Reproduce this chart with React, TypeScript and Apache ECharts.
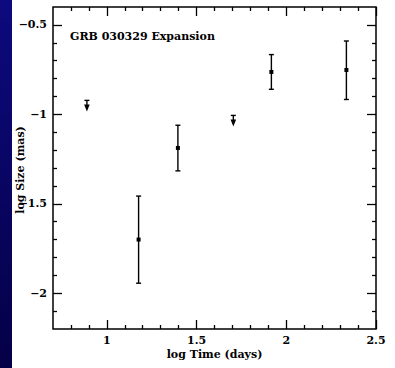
import React, { useEffect, useRef } from "react";
import * as echarts from "echarts";

// Detections: log time, log size, lower and upper error bounds
const detX = [1.177, 1.396, 1.917, 2.335];
const detY = [-1.70, -1.188, -0.763, -0.752];
const detLo = [-1.944, -1.316, -0.86, -0.917];
const detHi = [-1.457, -1.061, -0.666, -0.590];

// Upper limits
const limX = [0.889, 1.705];
const limY = [-0.922, -1.006];

const xMajor = [1, 1.5, 2, 2.5];
const xMinor = [0.8, 0.9, 1.1, 1.2, 1.3, 1.4, 1.6, 1.7, 1.8, 1.9, 2.1, 2.2, 2.3, 2.4];
const yMajor = [-2, -1.5, -1, -0.5];
const yMinor = [-2.1, -1.9, -1.8, -1.7, -1.6, -1.4, -1.3, -1.2, -1.1, -0.9, -0.8, -0.7, -0.6];

const FONT = "DejaVu Serif";

export default function App() {
  const ref = useRef<HTMLDivElement>(null);
  useEffect(() => {
    document.body.style.margin = "0";
    const chart = echarts.init(ref.current!, null, { renderer: "svg" });
    const lbl = { fontFamily: FONT, fontWeight: "bold" as const, fontSize: 11, color: "#000" };
    const baseX = { type: "value" as const, min: 0.7, max: 2.5, splitLine: { show: false }, axisLine: { show: false, onZero: false } };
    const baseY = { type: "value" as const, min: -2.2, max: -0.4, splitLine: { show: false }, axisLine: { show: false, onZero: false } };
    const tick = (vals: number[], len: number) => ({
      show: true, inside: true, length: len, customValues: vals,
      lineStyle: { color: "#000", width: 1.3 },
    });
    const data = detX.map((x, i) => [x, detY[i], detLo[i], detHi[i]]);
    const lim = limX.map((x, i) => [x, limY[i]]);
    chart.setOption({
      animation: false,
      backgroundColor: "#fff",
      grid: {
        left: 53, right: 19, top: 7, bottom: 39, containLabel: false, outerBoundsMode: "none",
        show: true, borderColor: "#000", borderWidth: 1.5, backgroundColor: "transparent",
      },
      graphic: [
        {
          type: "rect", left: 0, top: 0, z: -10,
          shape: { x: 0, y: 0, width: 12, height: 368 },
          style: {
            fill: new echarts.graphic.LinearGradient(0, 0, 0, 1, [
              { offset: 0, color: "#0c0a7e" },
              { offset: 1, color: "#050046" },
            ]),
          },
        },
        {
          type: "text", x: 70, y: 36,
          style: { text: "GRB 030329 Expansion", font: `bold 11px "${FONT}"`, fill: "#000", verticalAlign: "middle" },
        },
        {
          type: "text", x: 20, y: 170, rotation: Math.PI / 2,
          style: { text: "log Size (mas)", font: `bold 11px "${FONT}"`, fill: "#000", align: "center", verticalAlign: "middle" },
        },
      ],
      xAxis: [
        {
          ...baseX, position: "bottom",
          name: "log Time (days)", nameLocation: "middle", nameGap: 20, nameMoveOverlap: false,
          nameTextStyle: { ...lbl },
          axisTick: tick(xMajor, 9),
          axisLabel: { ...lbl, margin: 6, customValues: xMajor },
        },
        { ...baseX, position: "bottom", axisTick: tick(xMinor, 4), axisLabel: { show: false } },
        { ...baseX, position: "top", axisTick: tick(xMajor, 9), axisLabel: { show: false } },
        { ...baseX, position: "top", axisTick: tick(xMinor, 4), axisLabel: { show: false } },
      ],
      yAxis: [
        {
          ...baseY, position: "left",
          axisTick: tick(yMajor, 9),
          axisLabel: {
            ...lbl, margin: 6, customValues: yMajor,
            formatter: (v: number) => (v < 0 ? "\u2212" + String(-v) : String(v)),
          },
        },
        { ...baseY, position: "left", axisTick: tick(yMinor, 4), axisLabel: { show: false } },
        { ...baseY, position: "right", axisTick: tick(yMajor, 9), axisLabel: { show: false } },
        { ...baseY, position: "right", axisTick: tick(yMinor, 4), axisLabel: { show: false } },
      ],
      series: [
        {
          type: "custom",
          xAxisIndex: 0, yAxisIndex: 0,
          data,
          encode: { x: 0, y: 1 },
          renderItem: (params: any, api: any) => {
            const x = api.value(0), y = api.value(1), lo = api.value(2), hi = api.value(3);
            const c = api.coord([x, y]);
            const l = api.coord([x, lo]);
            const h = api.coord([x, hi]);
            const st = { stroke: "#000", lineWidth: 1.4 };
            return {
              type: "group",
              children: [
                { type: "line", shape: { x1: l[0], y1: l[1], x2: h[0], y2: h[1] }, style: st },
                { type: "line", shape: { x1: l[0] - 2.5, y1: l[1], x2: l[0] + 2.5, y2: l[1] }, style: st },
                { type: "line", shape: { x1: h[0] - 2.5, y1: h[1], x2: h[0] + 2.5, y2: h[1] }, style: st },
                { type: "rect", shape: { x: c[0] - 2, y: c[1] - 2, width: 4, height: 4 }, style: { fill: "#000" } },
              ],
            };
          },
        },
        {
          type: "custom",
          xAxisIndex: 0, yAxisIndex: 0,
          data: lim,
          encode: { x: 0, y: 1 },
          renderItem: (params: any, api: any) => {
            const c = api.coord([api.value(0), api.value(1)]);
            const st = { stroke: "#000", lineWidth: 1.4 };
            return {
              type: "group",
              children: [
                { type: "line", shape: { x1: c[0] - 2.5, y1: c[1], x2: c[0] + 2.5, y2: c[1] }, style: st },
                { type: "line", shape: { x1: c[0], y1: c[1], x2: c[0], y2: c[1] + 5 }, style: st },
                { type: "polygon", shape: { points: [[c[0] - 2.8, c[1] + 4], [c[0] + 2.8, c[1] + 4], [c[0], c[1] + 11]] }, style: { fill: "#000" } },
              ],
            };
          },
        },
      ],
    });
    return () => chart.dispose();
  }, []);
  return <div ref={ref} style={{ width: 395, height: 368 }} />;
}
